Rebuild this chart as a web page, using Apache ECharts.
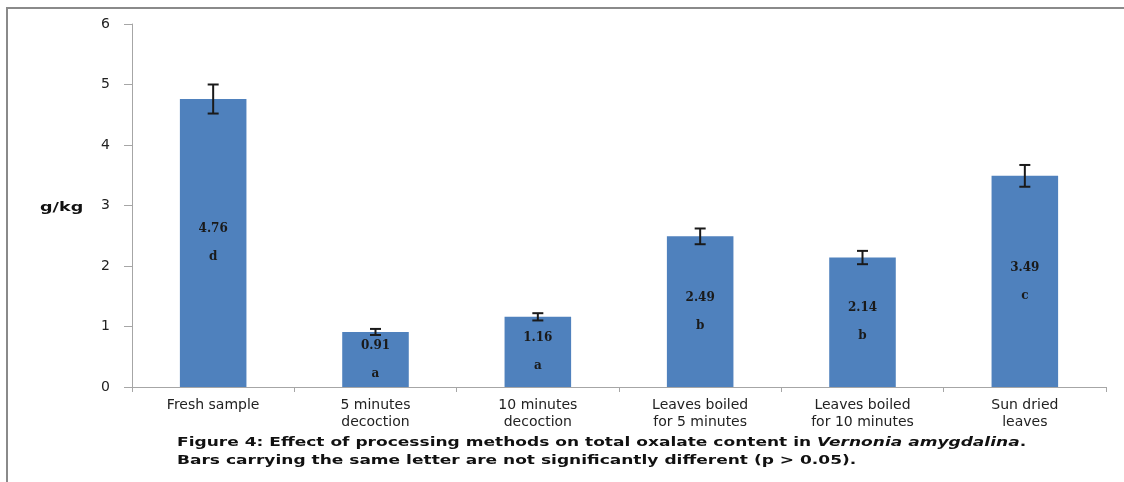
<!DOCTYPE html>
<html>
<head>
<meta charset="utf-8">
<script src="https://cdn.jsdelivr.net/npm/echarts@6/dist/echarts.min.js"></script>
<style>
  html, body { margin: 0; padding: 0; background: #ffffff; }
  #chart { width: 1124px; height: 482px; }
</style>
</head>
<body>
<div id="chart"></div>
<script>
// Total oxalate content (g/kg) by processing method
const categories = [
  'Fresh sample',
  '5 minutes\ndecoction',
  '10 minutes\ndecoction',
  'Leaves boiled\nfor 5 minutes',
  'Leaves boiled\nfor 10 minutes',
  'Sun dried\nleaves'
];
const means = [4.76, 0.91, 1.16, 2.49, 2.14, 3.49];
const errors = [0.24, 0.05, 0.06, 0.13, 0.11, 0.18];
const letters = ['d', 'a', 'a', 'b', 'b', 'c'];
const yTicks = [0, 1, 2, 3, 4, 5, 6];

const errorData = means.map((m, i) => [i, m - errors[i], m + errors[i]]);

const captionStyle = { fontFamily: 'DejaVu Sans', fontWeight: 'bold', fontSize: 13, fill: '#111', lineHeight: 18 };

const chart = echarts.init(document.getElementById('chart'), null, { renderer: 'canvas' });

chart.setOption({
  backgroundColor: '#ffffff',
  animation: false,
  grid: { left: 132, right: 18, top: 24, bottom: 95, containLabel: false },
  xAxis: {
    type: 'category',
    data: categories,
    axisLine: { show: true, lineStyle: { color: '#a6a6a6', width: 1 } },
    axisTick: { show: true, length: 5, alignWithLabel: false, lineStyle: { color: '#a6a6a6' } },
    axisLabel: {
      interval: 0,
      margin: 10,
      fontFamily: 'DejaVu Sans',
      fontSize: 14,
      lineHeight: 17,
      color: '#222'
    },
    splitLine: { show: false }
  },
  yAxis: {
    type: 'value',
    min: yTicks[0],
    max: yTicks[yTicks.length - 1],
    interval: 1,
    axisLine: { show: true, lineStyle: { color: '#a6a6a6', width: 1 } },
    axisTick: { show: true, length: 8, lineStyle: { color: '#a6a6a6' } },
    axisLabel: {
      margin: 22,
      fontFamily: 'DejaVu Sans',
      fontSize: 14,
      color: '#222'
    },
    splitLine: { show: false }
  },
  graphic: [
    // frame lines on the left and top
    { type: 'line', shape: { x1: 7, y1: 8, x2: 7, y2: 482 }, style: { stroke: '#8a8a8a', lineWidth: 2 } },
    { type: 'line', shape: { x1: 6, y1: 8, x2: 1124, y2: 8 }, style: { stroke: '#8a8a8a', lineWidth: 2 } },
    // y-axis unit
    {
      type: 'text', x: 40, y: 201, scaleX: 1.35,
      style: { text: 'g/kg', fontFamily: 'DejaVu Sans', fontWeight: 'bold', fontSize: 13, fill: '#111' }
    },
    // figure caption
    {
      type: 'text', x: 177, y: 434, scaleX: 1.31,
      style: {
        text: '{b|Figure 4: Effect of processing methods on total oxalate content in }{i|Vernonia amygdalina}{b|.}\n{b|Bars carrying the same letter are not significantly different (p > 0.05).}',
        rich: {
          b: captionStyle,
          i: Object.assign({}, captionStyle, { fontStyle: 'italic' })
        }
      }
    }
  ],
  series: [
    {
      type: 'bar',
      data: means,
      barWidth: '41%',
      itemStyle: { color: '#4F81BD' },
      label: {
        show: true,
        position: 'inside',
        formatter: p => '{v|' + p.value.toFixed(2) + '}\n{l|' + letters[p.dataIndex] + '}',
        rich: {
          v: { fontFamily: 'DejaVu Serif', fontWeight: 'bold', fontSize: 12, color: '#1a1a1a', lineHeight: 28 },
          l: { fontFamily: 'DejaVu Serif', fontWeight: 'bold', fontSize: 12, color: '#1a1a1a', lineHeight: 28 }
        }
      },
      z: 2
    },
    {
      type: 'custom',
      data: errorData,
      z: 3,
      renderItem: function (params, api) {
        const x = api.value(0);
        const lo = api.coord([x, api.value(1)]);
        const hi = api.coord([x, api.value(2)]);
        const half = 5.5;
        const style = { stroke: '#1a1a1a', lineWidth: 2 };
        return {
          type: 'group',
          children: [
            { type: 'line', shape: { x1: lo[0], y1: lo[1], x2: hi[0], y2: hi[1] }, style },
            { type: 'line', shape: { x1: lo[0] - half, y1: lo[1], x2: lo[0] + half, y2: lo[1] }, style },
            { type: 'line', shape: { x1: hi[0] - half, y1: hi[1], x2: hi[0] + half, y2: hi[1] }, style }
          ]
        };
      }
    }
  ]
});
</script>
</body>
</html>
